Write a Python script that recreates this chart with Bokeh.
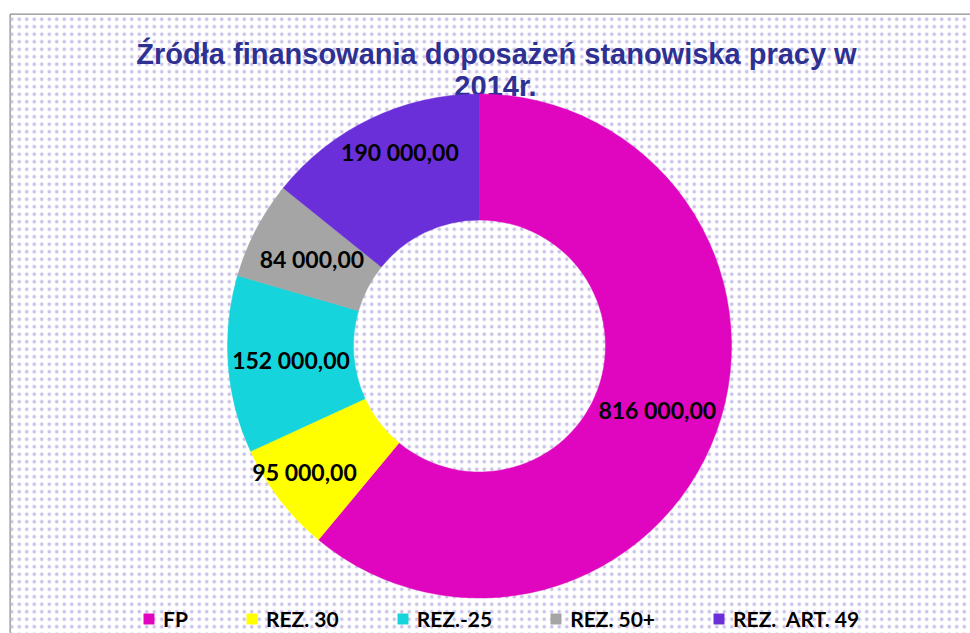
import math
from bokeh.plotting import figure
from bokeh.models import Range1d, Label, BoxAnnotation, ColumnDataSource, Legend, LegendItem
from bokeh.core.properties import value
from bokeh.embed import file_html
from bokeh.resources import INLINE

# ---- data ----
categories = ["FP", "REZ. 30", "REZ.-25", "REZ. 50+", "REZ.  ART. 49"]
amounts = [816000, 95000, 152000, 84000, 190000]
value_labels = ["816 000,00", "95 000,00", "152 000,00", "84 000,00", "190 000,00"]
colors = ["#E005BF", "#FFFF00", "#16D4DC", "#A5A5A5", "#6A2FD9"]
title_lines = ["Źródła finansowania doposażeń stanowiska pracy w", "2014r."]

# ---- styling / layout ----
W, H = 970, 633
FRAME_L, FRAME_T = 10, 14
PAGE_B = 633
cx, cy_page = 479, 345.5
r_in, r_out = 126, 252
label_dx = [0, -25, 0, 0, 2]
label_dy = [0, 11, 0, 0, -24]   # page pixels, positive = down

def py(page_y):
    return PAGE_B - page_y

p = figure(width=W, height=H, output_backend="svg", toolbar_location=None,
           x_range=Range1d(FRAME_L, W), y_range=Range1d(0, PAGE_B - FRAME_T),
           min_border_left=FRAME_L, min_border_top=FRAME_T, min_border_right=0, min_border_bottom=0)
p.axis.visible = False
p.grid.visible = False
p.background_fill_color = "white"
p.border_fill_color = "white"
p.outline_line_color = "#8c8c8c"
p.outline_line_width = 2

# dotted background
p.add_layout(BoxAnnotation(fill_color="white", fill_alpha=1.0, line_alpha=0,
                           hatch_pattern="dot", hatch_color="#cbc2ea",
                           hatch_scale=7.5, hatch_weight=1.6, level="underlay"))

# title (drawn under the ring, as in the original)
p.add_layout(Label(x=496, y=py(53), text=title_lines[0], text_align="center",
                   text_baseline="alphabetic", text_font="Liberation Sans", text_font_style="bold",
                   text_font_size="29px", text_color="#2E3192", level="underlay"))
p.add_layout(Label(x=495, y=py(85), text=title_lines[1], text_align="center",
                   text_baseline="alphabetic", text_font="Liberation Sans", text_font_style="bold",
                   text_font_size="29px", text_color="#2E3192", level="underlay"))

total = float(sum(amounts))
starts, ends, lx, ly = [], [], [], []
cum = 0.0
cy = py(cy_page)
for i, a in enumerate(amounts):
    s = math.pi / 2 - 2 * math.pi * cum / total
    cum += a
    e = math.pi / 2 - 2 * math.pi * cum / total
    starts.append(s)
    ends.append(e)
    mid = (s + e) / 2
    rm = (r_in + r_out) / 2
    lx.append(cx + rm * math.cos(mid) + label_dx[i])
    ly.append(cy + rm * math.sin(mid) - label_dy[i])

src = ColumnDataSource(dict(cat=categories, start=starts, end=ends, color=colors,
                            lx=lx, ly=ly, lab=value_labels))

renderers = []
for i in range(len(categories)):
    r = p.annular_wedge(x=cx, y=cy, inner_radius=r_in, outer_radius=r_out,
                        start_angle=starts[i], end_angle=ends[i], direction="clock",
                        fill_color=colors[i], line_color=colors[i], line_width=0.5)
    renderers.append(r)

p.text(x="lx", y="ly", text="lab", source=src, text_align="center", text_baseline="middle",
       text_font=value("Lato"), text_font_style="bold", text_font_size="23px", text_color="black")

legend = Legend(items=[LegendItem(label=c, renderers=[r]) for c, r in zip(categories, renderers)],
                orientation="horizontal", location=(132, 2), padding=0, margin=0,
                spacing=57, glyph_width=13, glyph_height=13, label_standoff=8,
                label_text_font="Lato", label_text_font_style="bold", label_text_font_size="21px",
                label_text_color="black", background_fill_alpha=0, border_line_alpha=0,
                label_height=20)
p.add_layout(legend)

open("out.html", "w").write(file_html(p, INLINE))
